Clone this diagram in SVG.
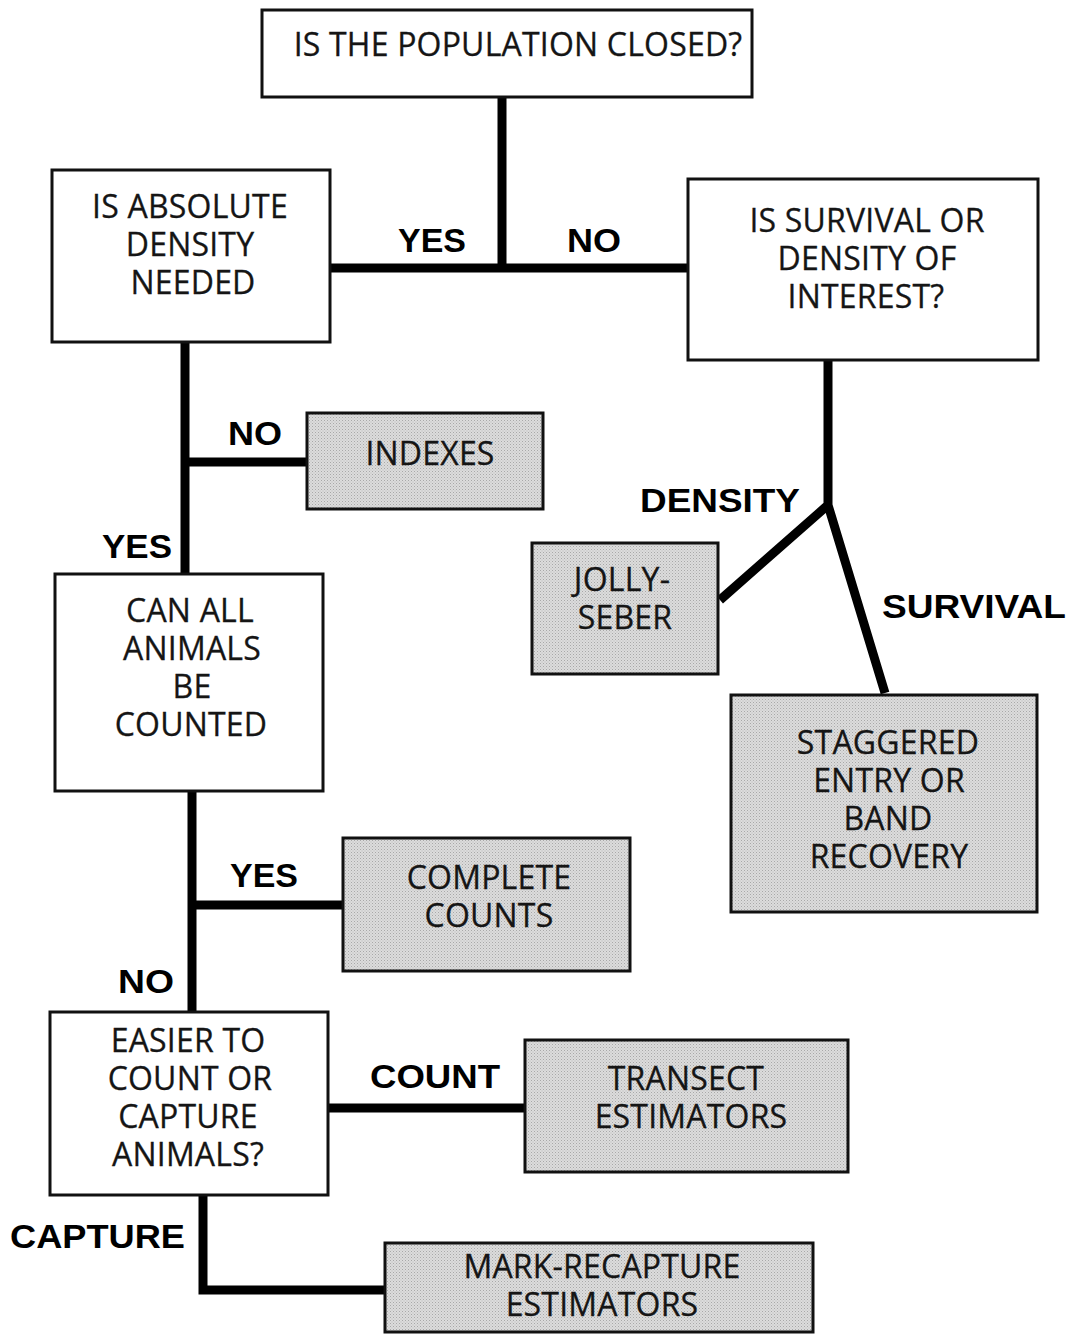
<svg xmlns="http://www.w3.org/2000/svg" width="1070" height="1335" viewBox="0 0 1070 1335">
<defs>
<pattern id="dots" width="3" height="3" patternUnits="userSpaceOnUse">
<rect width="3" height="3" fill="#dcdcdc"/>
<rect width="1" height="1" fill="#a8a8a8"/>
<rect x="1.5" y="1.5" width="1" height="1" fill="#b8b8b8"/>
</pattern>
</defs>
<style>
.box{fill:#fff;stroke:#111;stroke-width:3}
.gray{fill:url(#dots);stroke:#111;stroke-width:3}
.t{font-family:"Open Sans","Liberation Sans",sans-serif;font-size:32px;fill:#151515;text-anchor:middle;letter-spacing:0.2px;stroke:#151515;stroke-width:0.3px}
.lbl{font-family:"Liberation Sans",Arial,sans-serif;font-weight:bold;font-size:33px;fill:#000}
.c{stroke:#000;stroke-width:9;fill:none;stroke-linecap:butt;stroke-linejoin:miter}
</style>
<rect width="1070" height="1335" fill="#fff"/>
<g id="connectors">
<path class="c" d="M502 97 V268 M330 268 H688"/>
<path class="c" d="M185 342 V574 M185 462 H307"/>
<path class="c" d="M192 791 V1012 M192 905 H343"/>
<path class="c" d="M328 1108 H525"/>
<path class="c" d="M203 1195 V1290 H385"/>
<path class="c" d="M828 360 V505 L720 600 M828 505 L885 693"/>
</g>
<g id="labels">
<text class="lbl" x="398" y="252" textLength="68" lengthAdjust="spacingAndGlyphs">YES</text>
<text class="lbl" x="567" y="252" textLength="54" lengthAdjust="spacingAndGlyphs">NO</text>
<text class="lbl" x="228" y="445" textLength="54" lengthAdjust="spacingAndGlyphs">NO</text>
<text class="lbl" x="102" y="558" textLength="70" lengthAdjust="spacingAndGlyphs">YES</text>
<text class="lbl" x="230" y="887" textLength="68" lengthAdjust="spacingAndGlyphs">YES</text>
<text class="lbl" x="118" y="993" textLength="56" lengthAdjust="spacingAndGlyphs">NO</text>
<text class="lbl" x="370" y="1088" textLength="130" lengthAdjust="spacingAndGlyphs">COUNT</text>
<text class="lbl" x="10" y="1248" textLength="175" lengthAdjust="spacingAndGlyphs">CAPTURE</text>
<text class="lbl" x="640" y="512" textLength="160" lengthAdjust="spacingAndGlyphs">DENSITY</text>
<text class="lbl" x="882" y="618" textLength="184" lengthAdjust="spacingAndGlyphs">SURVIVAL</text>
</g>
<g id="n-closed"><rect class="box" x="262" y="10" width="490" height="87"/><text class="t" x="518" y="56">IS THE POPULATION CLOSED?</text></g>
<g id="n-absolute"><rect class="box" x="52" y="170" width="278" height="172"/><text class="t" x="190" y="218">IS ABSOLUTE</text><text class="t" x="190" y="256">DENSITY</text><text class="t" x="193" y="294">NEEDED</text></g>
<g id="n-survival"><rect class="box" x="688" y="179" width="350" height="181"/><text class="t" x="867" y="232">IS SURVIVAL OR</text><text class="t" x="867" y="270">DENSITY OF</text><text class="t" x="866" y="308">INTEREST?</text></g>
<g id="n-indexes"><rect class="gray" x="307" y="413" width="236" height="96"/><text class="t" x="430" y="465">INDEXES</text></g>
<g id="n-jolly"><rect class="gray" x="532" y="543" width="186" height="131"/><text class="t" x="622" y="591">JOLLY-</text><text class="t" x="625" y="629">SEBER</text></g>
<g id="n-staggered"><rect class="gray" x="731" y="695" width="306" height="217"/><text class="t" x="888" y="754">STAGGERED</text><text class="t" x="889" y="792">ENTRY OR</text><text class="t" x="888" y="830">BAND</text><text class="t" x="889" y="868">RECOVERY</text></g>
<g id="n-canall"><rect class="box" x="55" y="574" width="268" height="217"/><text class="t" x="190" y="622">CAN ALL</text><text class="t" x="192" y="660">ANIMALS</text><text class="t" x="192" y="698">BE</text><text class="t" x="191" y="736">COUNTED</text></g>
<g id="n-complete"><rect class="gray" x="343" y="838" width="287" height="133"/><text class="t" x="489" y="889">COMPLETE</text><text class="t" x="489" y="927">COUNTS</text></g>
<g id="n-easier"><rect class="box" x="50" y="1012" width="278" height="183"/><text class="t" x="188" y="1052">EASIER TO</text><text class="t" x="190" y="1090">COUNT OR</text><text class="t" x="188" y="1128">CAPTURE</text><text class="t" x="188" y="1166">ANIMALS?</text></g>
<g id="n-transect"><rect class="gray" x="525" y="1040" width="323" height="132"/><text class="t" x="686" y="1090">TRANSECT</text><text class="t" x="691" y="1128">ESTIMATORS</text></g>
<g id="n-mark"><rect class="gray" x="385" y="1243" width="428" height="89"/><text class="t" x="602" y="1278">MARK-RECAPTURE</text><text class="t" x="602" y="1316">ESTIMATORS</text></g>
</svg>
